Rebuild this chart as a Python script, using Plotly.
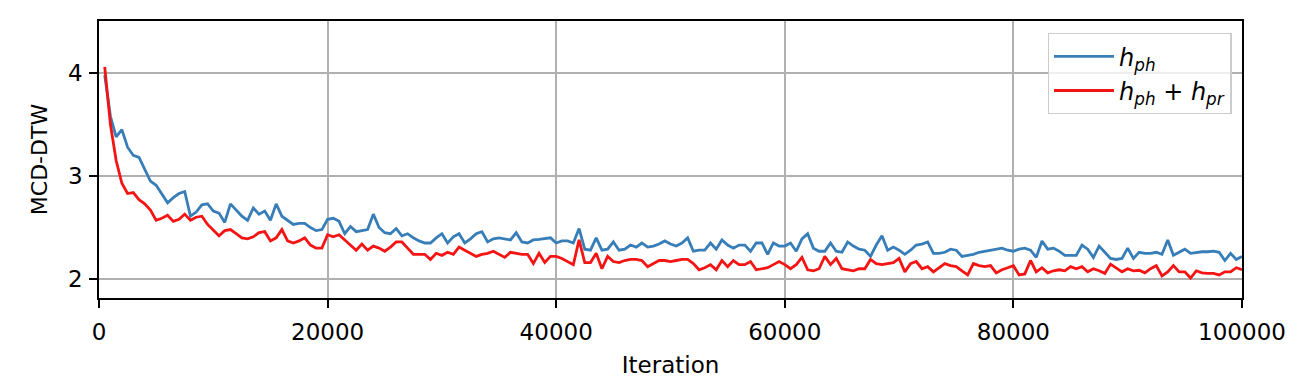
import plotly.graph_objects as go

iterations = list(range(500, 100001, 500))

h_ph = [
    3.98, 3.58, 3.38, 3.45, 3.28, 3.20, 3.18, 3.07, 2.95, 2.91,
    2.83, 2.74, 2.79, 2.83, 2.85, 2.61, 2.65, 2.72, 2.73, 2.66,
    2.64, 2.55, 2.73, 2.67, 2.61, 2.57, 2.69, 2.63, 2.66, 2.57,
    2.73, 2.61, 2.57, 2.53, 2.54, 2.54, 2.50, 2.47, 2.48, 2.58,
    2.59, 2.56, 2.44, 2.51, 2.46, 2.47, 2.48, 2.63, 2.50, 2.45,
    2.44, 2.49, 2.42, 2.44, 2.40, 2.37, 2.35, 2.35, 2.40, 2.44,
    2.35, 2.41, 2.44, 2.35, 2.39, 2.44, 2.46, 2.36, 2.39, 2.40,
    2.39, 2.38, 2.45, 2.36, 2.35, 2.38, 2.385, 2.39, 2.40, 2.35,
    2.37, 2.37, 2.35, 2.49, 2.29, 2.28, 2.40, 2.28, 2.29, 2.36,
    2.28, 2.29, 2.33, 2.31, 2.35, 2.31, 2.32, 2.34, 2.37, 2.34,
    2.32, 2.35, 2.40, 2.27, 2.28, 2.28, 2.35, 2.29, 2.38, 2.33,
    2.30, 2.33, 2.33, 2.27, 2.35, 2.35, 2.24, 2.35, 2.32, 2.32,
    2.35, 2.27, 2.39, 2.44, 2.30, 2.27, 2.27, 2.35, 2.27, 2.26,
    2.36, 2.32, 2.29, 2.28, 2.22, 2.33, 2.42, 2.28, 2.31, 2.28,
    2.24, 2.28, 2.33, 2.34, 2.36, 2.25, 2.25, 2.26, 2.29, 2.28,
    2.22, 2.23, 2.24, 2.26, 2.27, 2.28, 2.29, 2.30, 2.28, 2.27,
    2.29, 2.30, 2.28, 2.21, 2.37, 2.29, 2.30, 2.27, 2.23, 2.23,
    2.23, 2.33, 2.29, 2.21, 2.32, 2.26, 2.20, 2.19, 2.20, 2.30,
    2.20, 2.26, 2.25, 2.25, 2.26, 2.24, 2.38, 2.23, 2.26, 2.29,
    2.25, 2.26, 2.265, 2.265, 2.27, 2.26, 2.18, 2.25, 2.19, 2.22,
]

h_ph_pr = [
    4.06, 3.50, 3.15, 2.93, 2.83, 2.84, 2.77, 2.73, 2.67, 2.57,
    2.59, 2.62, 2.56, 2.58, 2.63, 2.57, 2.60, 2.61, 2.53, 2.47,
    2.42, 2.47, 2.48, 2.44, 2.40, 2.39, 2.41, 2.45, 2.46, 2.37,
    2.40, 2.48, 2.37, 2.35, 2.37, 2.40, 2.33, 2.30, 2.30, 2.43,
    2.41, 2.43, 2.38, 2.33, 2.28, 2.34, 2.28, 2.32, 2.30, 2.27,
    2.31, 2.36, 2.36, 2.30, 2.24, 2.24, 2.24, 2.19, 2.25, 2.23,
    2.26, 2.24, 2.31, 2.28, 2.25, 2.22, 2.24, 2.25, 2.27, 2.24,
    2.21, 2.26, 2.25, 2.24, 2.24, 2.15, 2.25, 2.16, 2.22, 2.22,
    2.20, 2.17, 2.14, 2.38, 2.16, 2.16, 2.25, 2.10, 2.22, 2.17,
    2.16, 2.18, 2.19, 2.19, 2.18, 2.12, 2.15, 2.18, 2.18, 2.17,
    2.18, 2.19, 2.19, 2.15, 2.09, 2.11, 2.14, 2.09, 2.18, 2.12,
    2.18, 2.14, 2.14, 2.17, 2.09, 2.10, 2.11, 2.14, 2.17, 2.14,
    2.10, 2.14, 2.21, 2.09, 2.08, 2.10, 2.22, 2.14, 2.20, 2.10,
    2.09, 2.08, 2.10, 2.10, 2.19, 2.15, 2.14, 2.15, 2.16, 2.20,
    2.07, 2.15, 2.17, 2.10, 2.12, 2.07, 2.11, 2.15, 2.13, 2.12,
    2.08, 2.04, 2.15, 2.13, 2.12, 2.13, 2.06, 2.09, 2.11, 2.13,
    2.04, 2.05, 2.18, 2.07, 2.11, 2.06, 2.08, 2.09, 2.08, 2.12,
    2.10, 2.12, 2.07, 2.10, 2.08, 2.055, 2.145, 2.11, 2.07, 2.10,
    2.08, 2.085, 2.06, 2.10, 2.13, 2.03, 2.07, 2.13, 2.07, 2.07,
    2.01, 2.08, 2.06, 2.055, 2.055, 2.04, 2.07, 2.07, 2.11, 2.09,
]

x_ticks = [0, 20000, 40000, 60000, 80000, 100000]
y_ticks = [2, 3, 4]

fig = go.Figure()
fig.add_trace(go.Scatter(
    x=iterations, y=h_ph, mode="lines",
    line=dict(color="#377eb8", width=2.8),
    name="<i>h</i><sub><i>ph</i></sub>",
))
fig.add_trace(go.Scatter(
    x=iterations, y=h_ph_pr, mode="lines",
    line=dict(color="#f51414", width=2.8),
    name="<i>h</i><sub><i>ph</i></sub> + <i>h</i><sub><i>pr</i></sub>",
))

axis_common = dict(
    showline=True, linecolor="black", linewidth=1.6, mirror=True,
    showgrid=True, gridcolor="#b0b0b0", gridwidth=1.5,
    zeroline=False, ticks="outside", ticklen=8, tickwidth=1.6, tickcolor="black",
    tickfont=dict(family="DejaVu Sans", size=23, color="black"),
    automargin=False,
)

fig.update_layout(
    width=1302, height=383,
    margin=dict(l=99, r=60, t=21, b=85),
    paper_bgcolor="white", plot_bgcolor="white",
    font=dict(family="DejaVu Sans", size=23, color="black"),
    xaxis=dict(
        range=[0, 100000], tickvals=x_ticks, ticktext=[str(v) for v in x_ticks],
        ticklabelstandoff=5,
        title=dict(text="Iteration", font=dict(size=23), standoff=12),
        **axis_common,
    ),
    yaxis=dict(
        range=[1.816, 4.505], tickvals=y_ticks, ticktext=[str(v) for v in y_ticks],
        ticklabelstandoff=2,
        title=dict(text="MCD-DTW", font=dict(size=22), standoff=14),
        **axis_common,
    ),
    legend=dict(
        x=0.991, y=0.957, xanchor="right", yanchor="top",
        bgcolor="rgba(255,255,255,0.8)", bordercolor="#cccccc", borderwidth=1.3,
        font=dict(family="DejaVu Sans", size=24, color="black"),
        tracegroupgap=2, itemwidth=60,
    ),
    showlegend=True,
)

fig.write_html("out.html")
